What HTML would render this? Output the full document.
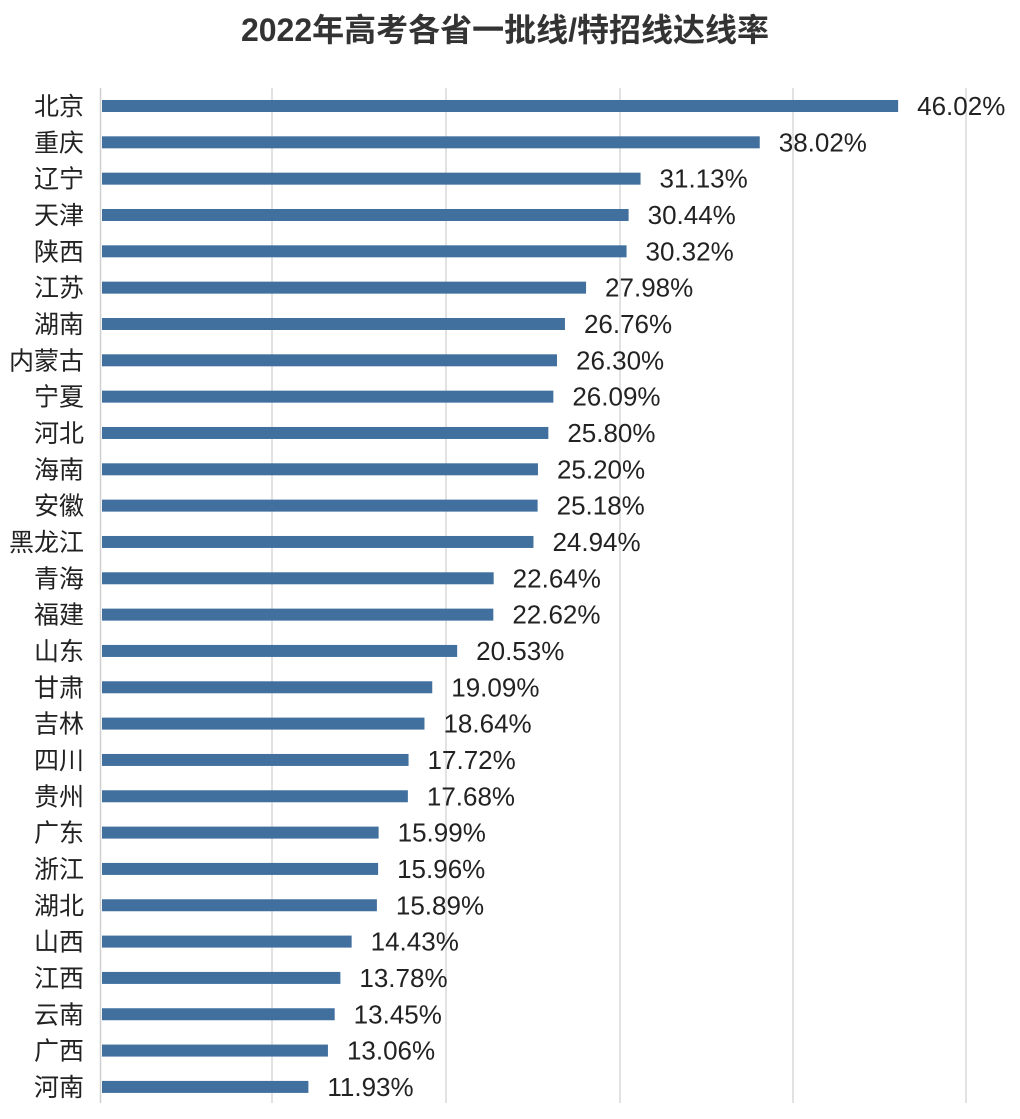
<!DOCTYPE html>
<html><head><meta charset="utf-8"><style>
body{margin:0;background:#fff}
svg text{font-family:"Liberation Sans","Noto Sans CJK SC",sans-serif}
</style></head><body>
<svg width="1020" height="1114" viewBox="0 0 1020 1114" xmlns="http://www.w3.org/2000/svg">
<rect width="1020" height="1114" fill="#fff"/>
<text x="505" y="41" text-anchor="middle" font-size="32" font-weight="bold" fill="#333">2022年高考各省一批线/特招线达线率</text>
<g stroke="#d9d9d9" stroke-width="1.5">
<line x1="272" y1="88" x2="272" y2="1103"/>
<line x1="446" y1="88" x2="446" y2="1103"/>
<line x1="620" y1="88" x2="620" y2="1103"/>
<line x1="793" y1="88" x2="793" y2="1103"/>
<line x1="966" y1="88" x2="966" y2="1103"/>
</g>
<line x1="100.5" y1="88" x2="100.5" y2="1103" stroke="#cfcfcf" stroke-width="1.5"/>
<g id="bars"></g>
</svg>
<script>
var d=[["北京",46.02],["重庆",38.02],["辽宁",31.13],["天津",30.44],["陕西",30.32],["江苏",27.98],["湖南",26.76],["内蒙古",26.30],["宁夏",26.09],["河北",25.80],["海南",25.20],["安徽",25.18],["黑龙江",24.94],["青海",22.64],["福建",22.62],["山东",20.53],["甘肃",19.09],["吉林",18.64],["四川",17.72],["贵州",17.68],["广东",15.99],["浙江",15.96],["湖北",15.89],["山西",14.43],["江西",13.78],["云南",13.45],["广西",13.06],["河南",11.93]];
var g=document.getElementById("bars"),h="";
d.forEach(function(r,i){var cy=106+i*36.33,w=r[1]*17.3;
h+='<rect x="102" y="'+(cy-6)+'" width="'+w+'" height="12" fill="#41709f"/>';
h+='<text x="84" y="'+(cy+9)+'" text-anchor="end" font-size="25" fill="#222">'+r[0]+'</text>';
h+='<text x="'+(102+w+19)+'" y="'+(cy+9)+'" font-size="26" fill="#222">'+r[1].toFixed(2)+'%</text>';});
g.innerHTML=h;
</script>
</body></html>
